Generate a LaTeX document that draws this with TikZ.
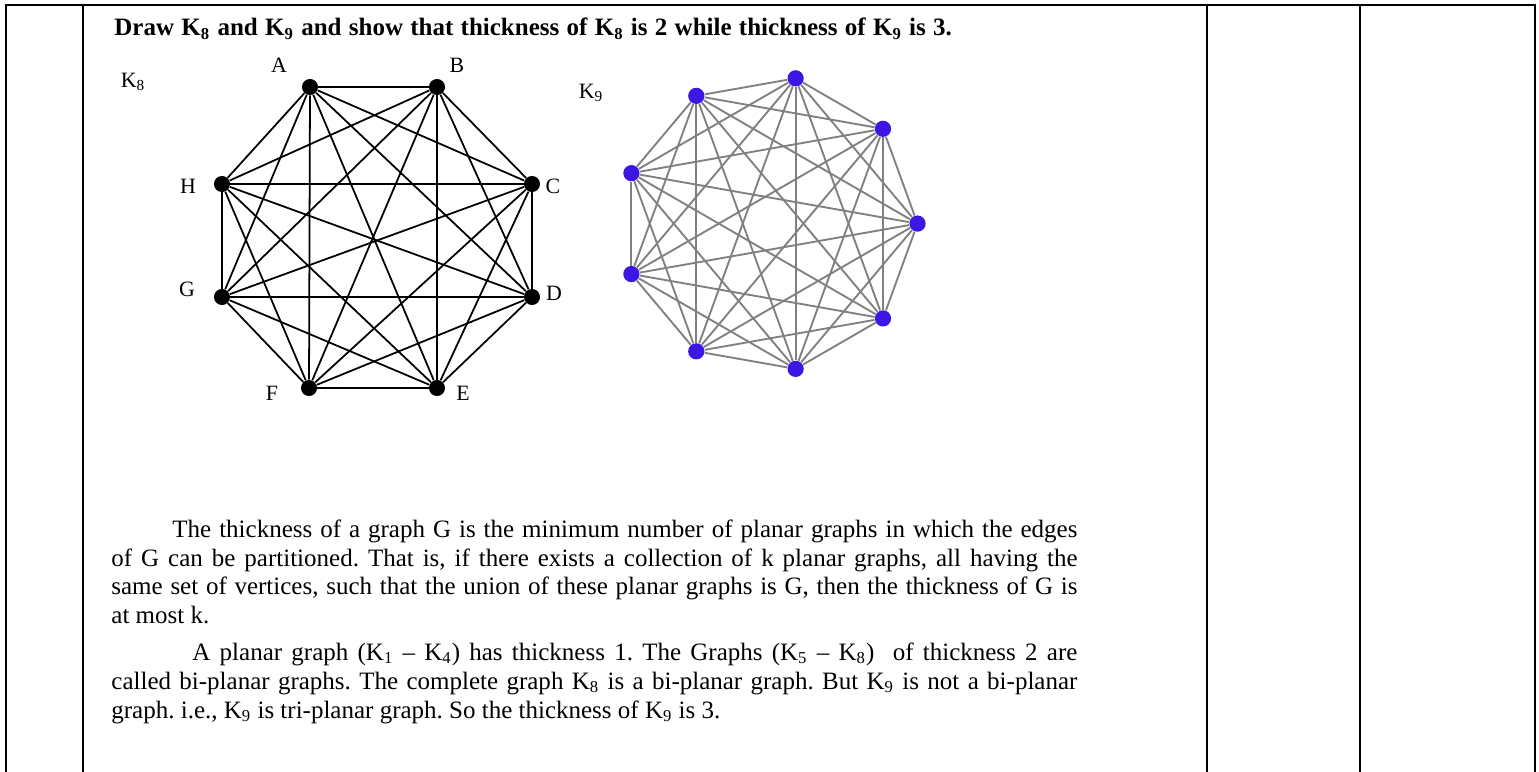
\documentclass[tikz,border=0pt]{standalone}
\usepackage{fontspec}
\setmainfont{Liberation Serif}
\usepackage{tikz}
\usetikzlibrary{positioning}
\definecolor{nonaviolet}{RGB}{62,22,228}
\definecolor{edgegray}{RGB}{128,128,128}
\newcommand{\Kn}[1]{K\textsubscript{#1}}
\newcommand{\jline}[1]{\makebox[463.7pt][s]{#1}}
\frenchspacing

\begin{document}
\begin{tikzpicture}[x=0.48pt,y=-0.48pt,
    frame/.style={line width=1.4pt},
    kdot/.style={circle,fill=black,inner sep=0pt,minimum size=7.7pt},
    ndot/.style={circle,fill=nonaviolet,inner sep=0pt,minimum size=7.8pt},
    kedge/.style={line width=0.85pt},
    nedge/.style={edgegray,line width=0.9pt},
    vlabel/.style={font=\fontsize{10.5}{12}\selectfont,inner sep=0pt},
    txtline/.style={anchor=base west,inner sep=0pt,font=\fontsize{12}{13.9}\selectfont}]
  \useasboundingbox (0,0) rectangle (1539,772);
  % table frame
  \draw[frame] (6,772) -- (6,5) -- (1535,5) -- (1535,772);
  \foreach \x in {83,1207,1360}{
    \draw[frame] (\x,5) -- (\x,772);
  }
  \node[txtline,font=\fontsize{12}{13.9}\selectfont\bfseries] (title) at (114,36)
    {\makebox[402pt][s]{Draw \Kn{8} and \Kn{9} and show that thickness of \Kn{8} is 2 while thickness of \Kn{9} is 3.}};
  % K8
  \foreach \name/\x/\y in {A/310/87,B/437/87,C/532/184,D/532/297,E/437/388,F/309/388,G/222/297,H/222/184}{
    \node[kdot] (\name) at (\x,\y) {};
  }
  \foreach \u/\vs in {A/{B,C,D,E,F,G,H},B/{C,D,E,F,G,H},C/{D,E,F,G,H},D/{E,F,G,H},E/{F,G,H},F/{G,H},G/{H}}{
    \foreach \v in \vs{
      \draw[kedge] (\u) -- (\v);
    }
  }
  \foreach \name/\x/\y in {A/279/65,B/457/65,C/553/186,D/554/293,E/463/393,F/272/393,G/187/289,H/188/186}{
    \node[vlabel] (l\name) at (\x,\y) {\name};
  }
  \node[vlabel] (keight) at (133,82) {\Kn{8}};
  % K9
  \foreach \i in {1,...,9}{
    \node[ndot] (n\i) at ({770+147.5*cos(40*(\i-1))},{223.6-147.5*sin(40*(\i-1))}) {};
  }
  \foreach \i in {1,...,8}{
    \pgfmathtruncatemacro\nxt{\i+1}
    \foreach \j in {\nxt,...,9}{
      \draw[nedge] (n\i) -- (n\j);
    }
  }
  \node[vlabel] (knine) at (591,93) {\Kn{9}};
  % text
  \node[txtline] (p1) at (111,537) {\jline{\hspace*{29.3pt}The thickness of a graph G is the minimum number of planar graphs in which the edges}};
  \node[txtline] (p2) at (111,566) {\jline{of G can be partitioned. That is, if there exists a collection of k planar graphs, all having the}};
  \node[txtline] (p3) at (111,594) {\jline{same set of vertices, such that the union of these planar graphs is G, then the thickness of G is}};
  \node[txtline] (p4) at (111,623) {at most k.};
  \node[txtline] (p5) at (111,660) {\jline{\hspace*{38.9pt}A planar graph (\Kn{1} -- \Kn{4}) has thickness 1. The Graphs (\Kn{5} -- \Kn{8})\ \ of thickness 2 are}};
  \node[txtline] (p6) at (111,689) {\jline{called bi-planar graphs. The complete graph \Kn{8} is a bi-planar graph. But \Kn{9} is not a bi-planar}};
  \node[txtline] (p7) at (111,718) {graph. i.e., \Kn{9} is tri-planar graph. So the thickness of \Kn{9} is 3.};
\end{tikzpicture}
\end{document}
